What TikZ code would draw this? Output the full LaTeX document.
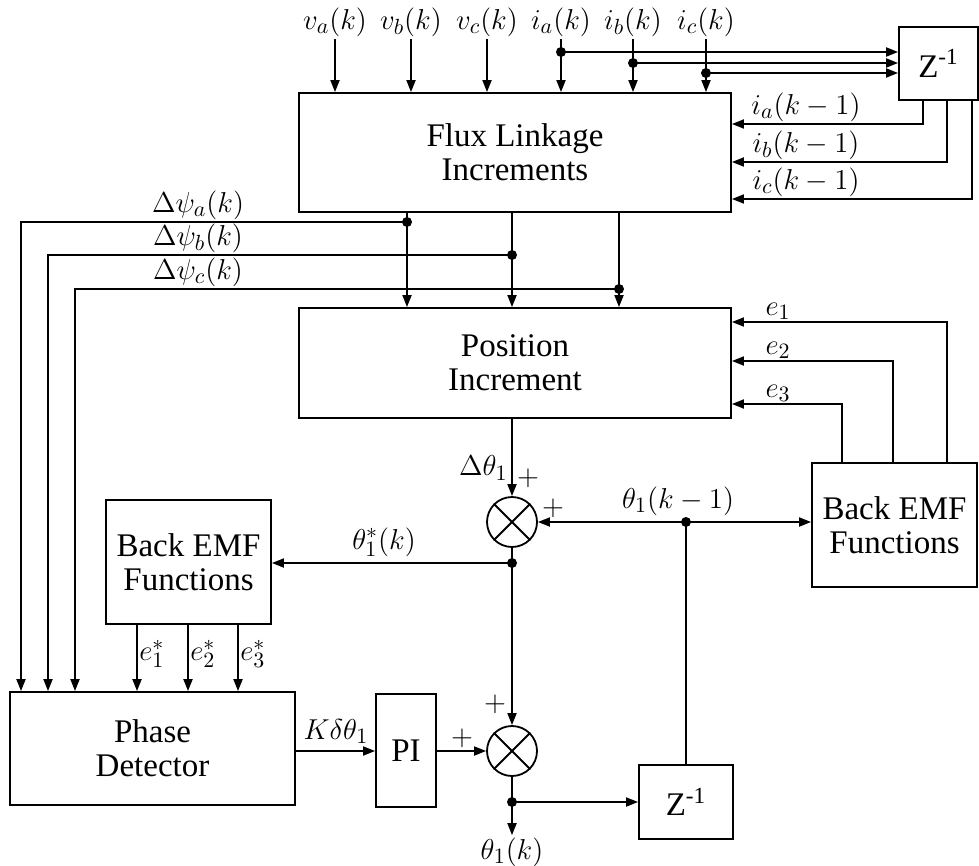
\documentclass[tikz,border=0pt]{standalone}
\usepackage{fontspec}
\setmainfont{Liberation Serif}
\usetikzlibrary{arrows.meta, positioning, calc}

\begin{document}
\begin{tikzpicture}[
  x=0.5pt, y=-0.5pt,
  font=\fontsize{15.5}{17}\selectfont,
  blk/.style={draw, line width=0.9pt, align=center, inner sep=0pt, font=\fontsize{16.5}{17}\selectfont},
  sumnode/.style={draw, circle, line width=0.9pt, minimum size=25pt, inner sep=0pt},
  sig/.style={line width=0.9pt, -{Triangle[length=6pt,width=4.5pt]}},
  wire/.style={line width=0.9pt},
  dot/.style={circle, fill, inner sep=0pt, minimum size=5pt},
  lbl/.style={inner sep=1pt}
]
  \useasboundingbox (0,0) rectangle (979,866);

  % blocks
  \node[blk, minimum width=216pt, minimum height=59.5pt] (flux) at (515,152.5) {Flux Linkage\\Increments};
  \node[blk, minimum width=216pt, minimum height=55pt] (pos) at (515,363) {Position\\Increment};
  \node[blk, minimum width=82.5pt, minimum height=62pt] (emfR) at (894.5,525) {Back EMF\\Functions};
  \node[blk, minimum width=82.5pt, minimum height=62pt] (emfL) at (188.5,562) {Back EMF\\Functions};
  \node[blk, minimum width=39.5pt, minimum height=36.5pt] (ztop) at (938.5,63.5) {Z\textsuperscript{-1}};
  \node[blk, minimum width=142.5pt, minimum height=56.5pt] (phase) at (152.5,748.5) {Phase\\Detector};
  \node[blk, minimum width=30pt, minimum height=56.5pt] (pi) at (406,750.5) {PI};
  \node[blk, minimum width=47pt, minimum height=37pt] (zbot) at (686,802) {Z\textsuperscript{-1}};
  \node[sumnode] (s1) at (512,522) {};
  \node[sumnode] (s2) at (512,751) {};
  \foreach \s in {s1, s2}
    \draw[wire] (\s.north east) -- (\s.south west) (\s.north west) -- (\s.south east);

  % measured inputs
  \foreach \n/\x/\t in {va/335/v_a, vb/411/v_b, vc/487/v_c, ia/561/i_a, ib/633/i_b, ic/706/i_c} {
    \node[lbl] (\n) at (\x,22) {$\t(k)$};
    \draw[sig] (\n.south) -- (\n.south |- flux.north);
  }
  \foreach \n/\y in {ia/52, ib/63, ic/73} {
    \coordinate (j\n) at (\n.south |- 0,\y);
    \draw[sig] (j\n) -- (j\n -| ztop.west);
    \node[dot] at (j\n) {};
  }

  % delayed currents
  \foreach \dx/\y/\t in {12.5/124/i_a, 24.5/162/i_b, 37/199/i_c} {
    \draw[sig] ([xshift=\dx pt]ztop.south west) |- (flux.east |- 0,\y);
    \node[lbl, anchor=south] at (806,\y) {$\t(k-1)$};
  }

  % flux increments
  \foreach \x/\y/\xl/\t in {407/222/21/a, 512/255/48/b, 619/289/75/c} {
    \draw[sig] (\x,0 |- flux.south) -- (\x,0 |- pos.north);
    \draw[sig] (\x,\y) -| (\xl,0 |- phase.north);
    \node[dot] at (\x,\y) {};
    \node[lbl, anchor=south] at (198,\y) {$\Delta\psi_\t(k)$};
  }

  % back emf feedback
  \foreach \dx/\y/\i in {68/322/1, 41/361/2, 15.5/404/3} {
    \draw[sig] ([xshift=\dx pt]emfR.north west) |- (pos.east |- 0,\y);
    \node[lbl, anchor=south] at (778,\y) {$e_\i$};
  }

  % position loop
  \draw[sig] (s1.north |- pos.south) -- (s1.north);
  \node[lbl, anchor=east] at (510,468) {$\Delta\theta_1$};
  \node at (528,478) {$+$};
  \coordinate (jt) at (686,522);
  \draw[sig] (jt) -- (s1.east);
  \draw[sig] (jt) -- (emfR.west |- jt);
  \draw[wire] (jt) -- (jt |- zbot.north);
  \node[dot] at (jt) {};
  \node[lbl, anchor=south] at (678,518) {$\theta_1(k-1)$};
  \node at (553,508) {$+$};

  \coordinate (jb) at (512,563);
  \draw[wire] (s1.south) -- (jb);
  \draw[sig] (jb) -- (jb -| emfL.east);
  \draw[sig] (jb) -- (s2.north);
  \node[dot] at (jb) {};
  \node[lbl, anchor=south] at (384,559) {$\theta_1^*(k)$};
  \node at (495,704) {$+$};

  \foreach \x/\i in {137/1, 188/2, 238/3} {
    \draw[sig] (\x,0 |- emfL.south) -- (\x,0 |- phase.north);
    \node[lbl, anchor=west] at (\x,654) {$e_\i^*$};
  }

  \draw[sig] (phase.east |- s2) -- (pi.west |- s2);
  \node[lbl, anchor=south] at (336,746) {$K\delta\theta_1$};
  \draw[sig] (pi.east |- s2) -- (s2.west);
  \node at (462,738) {$+$};

  \coordinate (jo) at (512,802);
  \node[lbl] (out) at (512,852) {$\theta_1(k)$};
  \draw[wire] (s2.south) -- (jo);
  \draw[sig] (jo) -- (zbot.west);
  \draw[sig] (jo) -- (out.north);
  \node[dot] at (jo) {};
\end{tikzpicture}
\end{document}
